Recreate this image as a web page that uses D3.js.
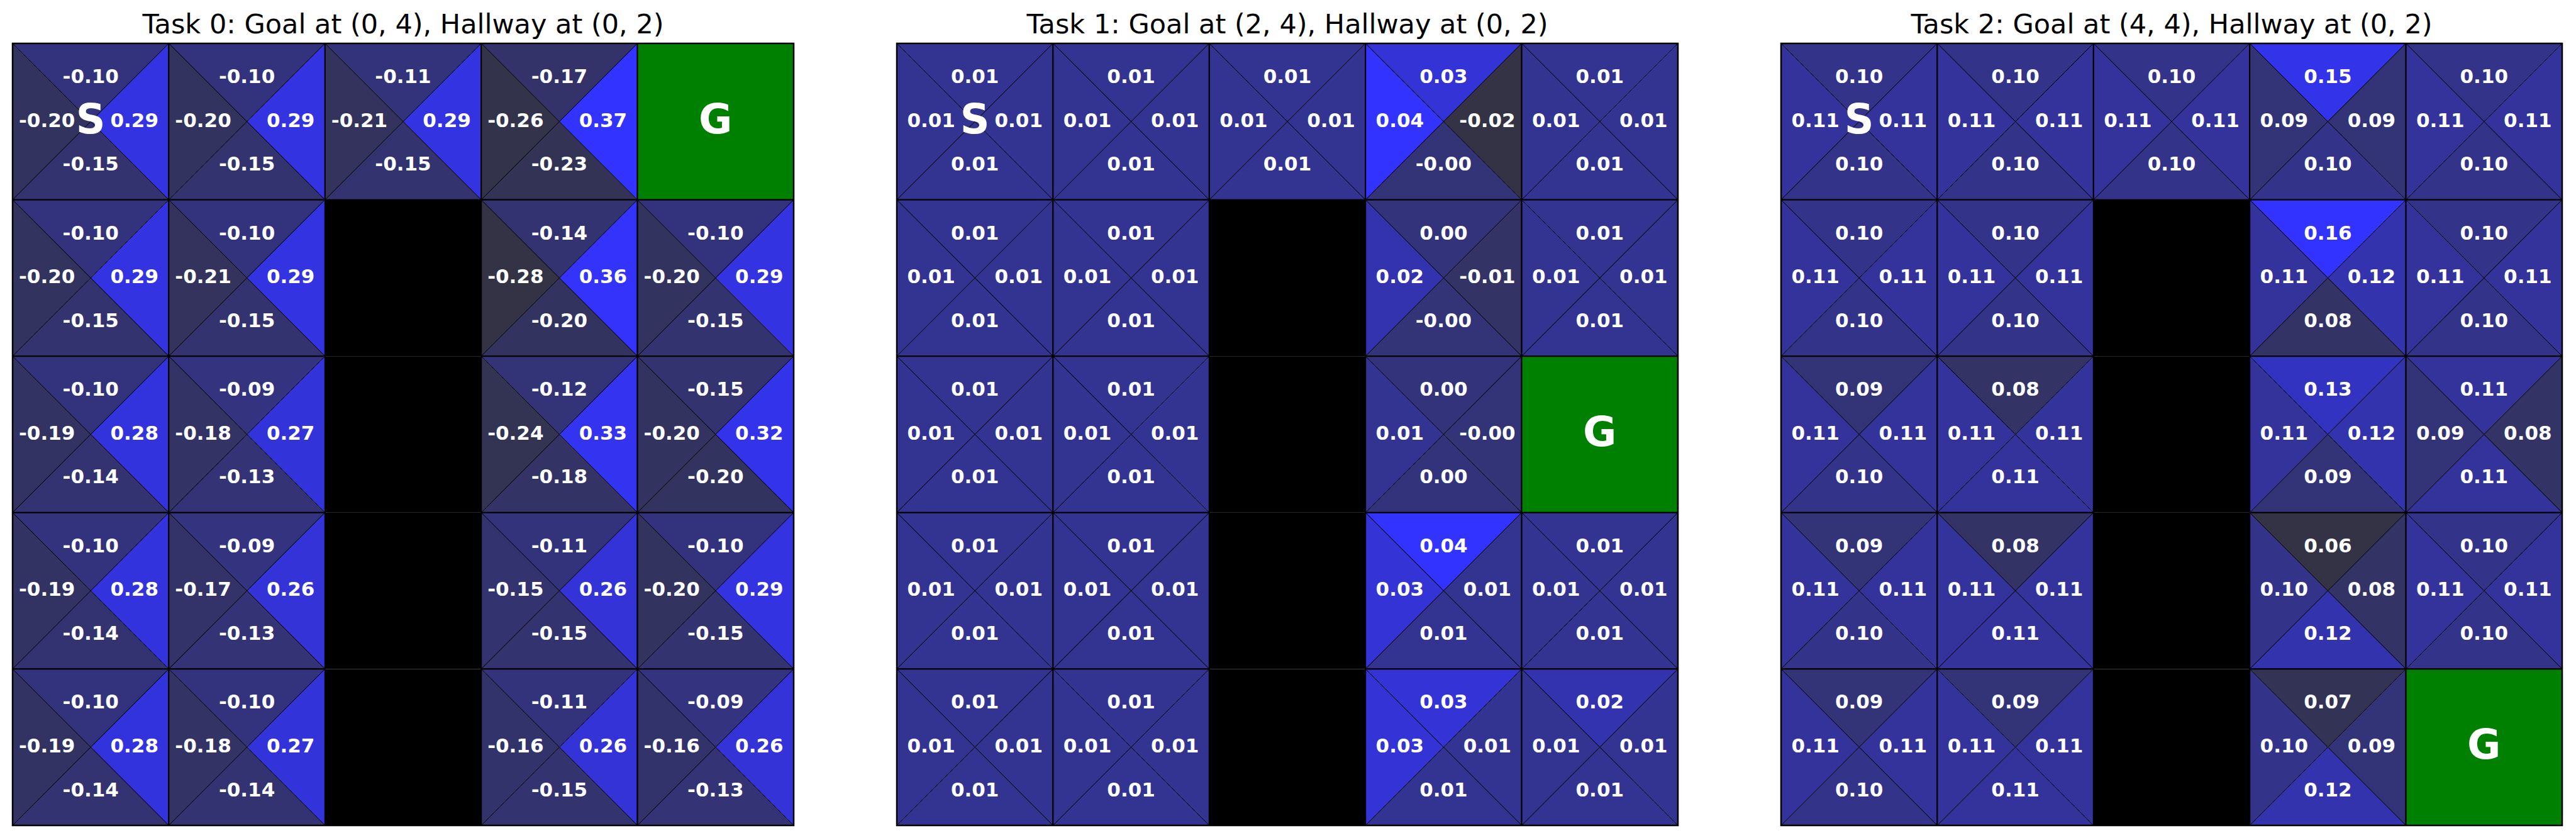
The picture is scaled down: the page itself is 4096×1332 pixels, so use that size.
<!DOCTYPE html>
<html><head><meta charset="utf-8">
<script src="https://cdn.jsdelivr.net/npm/d3@7"></script>
<style>html,body{margin:0;padding:0;background:#fff;overflow:hidden}svg{display:block}</style>
</head><body>
<svg id="chart" width="4096" height="1332"></svg>
<script>
// ---- data ----
const titles = [
  "Task 0: Goal at (0, 4), Hallway at (0, 2)",
  "Task 1: Goal at (2, 4), Hallway at (0, 2)",
  "Task 2: Goal at (4, 4), Hallway at (0, 2)"
];
const rows = [0, 1, 2, 3, 4];
const cols = [0, 1, 2, 3, 4];
const goals = [[0, 4], [2, 4], [4, 4]];
const startCell = [0, 0];
const walls = [[1, 2], [2, 2], [3, 2], [4, 2]];
// each cell: [up, left, right, down]; null = wall or goal
const task0 = [
  [[-0.10,-0.20,0.29,-0.15],[-0.10,-0.20,0.29,-0.15],[-0.11,-0.21,0.29,-0.15],[-0.17,-0.26,0.37,-0.23],null],
  [[-0.10,-0.20,0.29,-0.15],[-0.10,-0.21,0.29,-0.15],null,[-0.14,-0.28,0.36,-0.20],[-0.10,-0.20,0.29,-0.15]],
  [[-0.10,-0.19,0.28,-0.14],[-0.09,-0.18,0.27,-0.13],null,[-0.12,-0.24,0.33,-0.18],[-0.15,-0.20,0.32,-0.20]],
  [[-0.10,-0.19,0.28,-0.14],[-0.09,-0.17,0.26,-0.13],null,[-0.11,-0.15,0.26,-0.15],[-0.10,-0.20,0.29,-0.15]],
  [[-0.10,-0.19,0.28,-0.14],[-0.10,-0.18,0.27,-0.14],null,[-0.11,-0.16,0.26,-0.15],[-0.09,-0.16,0.26,-0.13]]
];
const task1 = [
  [[0.01,0.01,0.01,0.01],[0.01,0.01,0.01,0.01],[0.01,0.01,0.01,0.01],[0.03,0.04,-0.02,-0.002],[0.01,0.01,0.01,0.01]],
  [[0.01,0.01,0.01,0.01],[0.01,0.01,0.01,0.01],null,[0.00,0.02,-0.01,-0.002],[0.01,0.01,0.01,0.01]],
  [[0.01,0.01,0.01,0.01],[0.01,0.01,0.01,0.01],null,[0.00,0.01,-0.002,0.00],null],
  [[0.01,0.01,0.01,0.01],[0.01,0.01,0.01,0.01],null,[0.04,0.03,0.01,0.01],[0.01,0.01,0.01,0.01]],
  [[0.01,0.01,0.01,0.01],[0.01,0.01,0.01,0.01],null,[0.03,0.03,0.01,0.01],[0.02,0.01,0.01,0.01]]
];
const task2 = [
  [[0.10,0.11,0.11,0.10],[0.10,0.11,0.11,0.10],[0.10,0.11,0.11,0.10],[0.15,0.09,0.09,0.10],[0.10,0.11,0.11,0.10]],
  [[0.10,0.11,0.11,0.10],[0.10,0.11,0.11,0.10],null,[0.16,0.11,0.12,0.08],[0.10,0.11,0.11,0.10]],
  [[0.09,0.11,0.11,0.10],[0.08,0.11,0.11,0.11],null,[0.13,0.11,0.12,0.09],[0.11,0.09,0.08,0.11]],
  [[0.09,0.11,0.11,0.10],[0.08,0.11,0.11,0.11],null,[0.06,0.10,0.08,0.12],[0.10,0.11,0.11,0.10]],
  [[0.09,0.11,0.11,0.10],[0.09,0.11,0.11,0.11],null,[0.07,0.10,0.09,0.12],null]
];
const tasks = [task0, task1, task2];
const lowColor = "#333345", highColor = "#3333ff";
const goalColor = "#008000", wallColor = "#000000";

// ---- layout ----
const panelLeft = [20, 1426, 2832];
const panelW = 1242, panelTop = 69, panelH = 1243;
const svg = d3.select("#chart");
const fontFam = "'DejaVu Sans', sans-serif";

tasks.forEach((grid, ti) => {
  const x = d3.scaleBand().domain(cols).range([panelLeft[ti], panelLeft[ti] + panelW]);
  const y = d3.scaleBand().domain(rows).range([panelTop, panelTop + panelH]);
  const bw = x.bandwidth(), bh = y.bandwidth();
  const allVals = grid.flat().filter(d => d).flat();
  const color = d3.scalePow().exponent(1.3)
    .domain(d3.extent(allVals)).range([lowColor, highColor]).interpolate(d3.interpolateRgb);
  const g = svg.append("g");

  g.append("text")
    .attr("x", panelLeft[ti] + panelW / 2).attr("y", 53)
    .attr("text-anchor", "middle").attr("font-family", fontFam)
    .attr("font-size", 43).attr("fill", "#000").text(titles[ti]);

  const isWall = (r, c) => walls.some(w => w[0] === r && w[1] === c);
  const goal = goals[ti];
  const cells = [];
  rows.forEach(r => cols.forEach(c => cells.push({ r, c, q: grid[r][c] })));

  cells.forEach(d => {
    const x0 = x(d.c), y0 = y(d.r), x1 = x0 + bw, y1 = y0 + bh;
    const cx = x0 + bw / 2, cy = y0 + bh / 2;
    if (isWall(d.r, d.c)) {
      g.append("rect").attr("x", x0).attr("y", y0).attr("width", bw).attr("height", bh)
        .attr("fill", wallColor);
      return;
    }
    if (d.r === goal[0] && d.c === goal[1]) {
      g.append("rect").attr("x", x0).attr("y", y0).attr("width", bw).attr("height", bh)
        .attr("fill", goalColor).attr("stroke", "#000").attr("stroke-width", 2);
      g.append("text").attr("x", cx).attr("y", cy - 5 + 0.364 * 65)
        .attr("text-anchor", "middle").attr("font-family", fontFam).attr("font-weight", "bold")
        .attr("font-size", 65).attr("fill", "#fff").text("G");
      return;
    }
    const tris = [
      { v: d.q[0], pts: [[x0, y0], [x1, y0], [cx, cy]], tx: cx, ty: cy - 0.28 * bh },
      { v: d.q[1], pts: [[x0, y0], [x0, y1], [cx, cy]], tx: cx - 0.28 * bw, ty: cy },
      { v: d.q[2], pts: [[x1, y0], [x1, y1], [cx, cy]], tx: cx + 0.28 * bw, ty: cy },
      { v: d.q[3], pts: [[x0, y1], [x1, y1], [cx, cy]], tx: cx, ty: cy + 0.28 * bh }
    ];
    tris.forEach(t => {
      g.append("path").attr("d", d3.line()(t.pts) + "Z")
        .attr("fill", color(t.v)).attr("stroke", "#000").attr("stroke-width", 1);
    });
    g.append("rect").attr("x", x0).attr("y", y0).attr("width", bw).attr("height", bh)
      .attr("fill", "none").attr("stroke", "#000").attr("stroke-width", 2);
    tris.forEach(t => {
      g.append("text").attr("x", t.tx).attr("y", t.ty - 3 + 0.364 * 31)
        .attr("text-anchor", "middle").attr("font-family", fontFam).attr("font-weight", "bold")
        .attr("font-size", 31).attr("fill", "#fff").text(t.v.toFixed(2));
    });
    if (d.r === startCell[0] && d.c === startCell[1]) {
      g.append("text").attr("x", cx).attr("y", cy - 5 + 0.364 * 65)
        .attr("text-anchor", "middle").attr("font-family", fontFam).attr("font-weight", "bold")
        .attr("font-size", 65).attr("fill", "#fff").text("S");
    }
  });
  g.append("rect").attr("x", panelLeft[ti]).attr("y", panelTop).attr("width", panelW).attr("height", panelH)
    .attr("fill", "none").attr("stroke", "#000").attr("stroke-width", 2.5);
});
</script>
</body></html>
